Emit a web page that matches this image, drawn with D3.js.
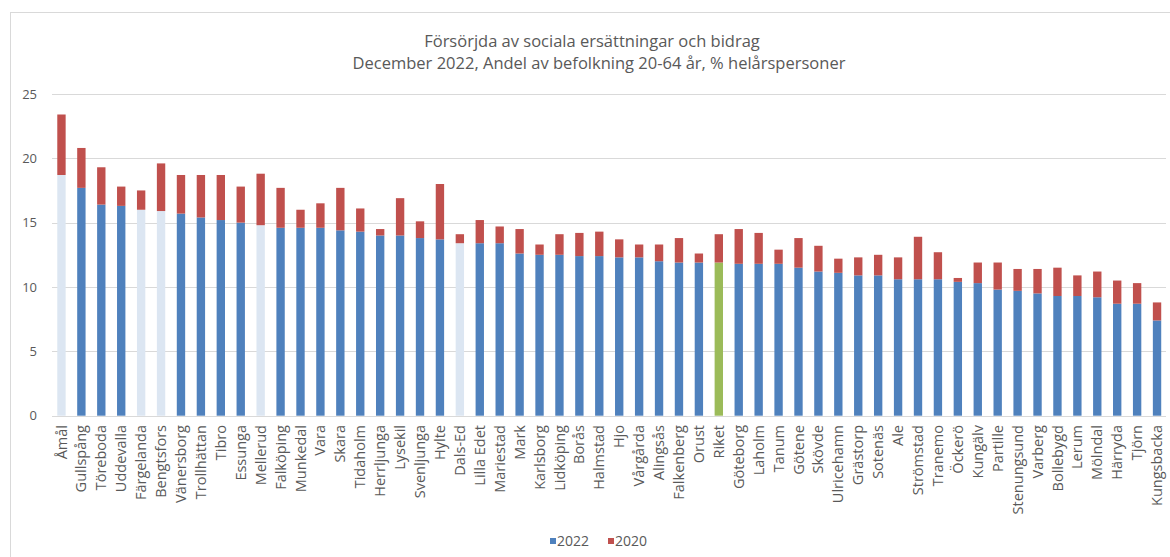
<!DOCTYPE html>
<html>
<head>
<meta charset="utf-8">
<script src="https://cdn.jsdelivr.net/npm/d3@7"></script>
<style>
  body { margin: 0; background: #fff; }
  svg { display: block; font-family: "Open Sans", "Noto Sans", sans-serif; }
</style>
</head>
<body>
<svg id="chart" width="1170" height="557"></svg>
<script>
// kommuner i ordning som i diagrammet
const kommuner = ['Åmål', 'Gullspång', 'Töreboda', 'Uddevalla', 'Färgelanda', 'Bengtsfors', 'Vänersborg',
  'Trollhättan', 'Tibro', 'Essunga', 'Mellerud', 'Falköping', 'Munkedal', 'Vara', 'Skara', 'Tidaholm',
  'Herrljunga', 'Lysekil', 'Svenljunga', 'Hylte', 'Dals-Ed', 'Lilla Edet', 'Mariestad', 'Mark', 'Karlsborg',
  'Lidköping', 'Borås', 'Halmstad', 'Hjo', 'Vårgårda', 'Alingsås', 'Falkenberg', 'Orust', 'Riket', 'Göteborg',
  'Laholm', 'Tanum', 'Götene', 'Skövde', 'Ulricehamn', 'Grästorp', 'Sotenäs', 'Ale', 'Strömstad', 'Tranemo',
  'Öckerö', 'Kungälv', 'Partille', 'Stenungsund', 'Varberg', 'Bollebygd', 'Lerum', 'Mölndal', 'Härryda',
  'Tjörn', 'Kungsbacka']

// andel 2022 (blå stapel)
const v2022 = [18.7, 17.7, 16.4, 16.3, 16.0, 15.9, 15.7, 15.4, 15.2, 15.0, 14.8, 14.6, 14.6, 14.6, 14.4, 14.3,
  14.0, 14.0, 13.8, 13.7, 13.4, 13.4, 13.4, 12.6, 12.5, 12.5, 12.4, 12.4, 12.3, 12.3, 12.0, 11.9, 11.9, 11.9, 11.8,
  11.8, 11.8, 11.5, 11.2, 11.1, 10.9, 10.9, 10.6, 10.6, 10.6, 10.4, 10.3, 9.8, 9.7, 9.5, 9.3, 9.3, 9.2, 8.7,
  8.7, 7.4]

// andel 2020 (röd del ovanpå, upp till 2020-nivån)
const v2020 = [23.4, 20.8, 19.3, 17.8, 17.5, 19.6, 18.7, 18.7, 18.7, 17.8, 18.8, 17.7, 16.0, 16.5, 17.7, 16.1,
  14.5, 16.9, 15.1, 18.0, 14.1, 15.2, 14.7, 14.5, 13.3, 14.1, 14.2, 14.3, 13.7, 13.3, 13.3, 13.8, 12.6, 14.1, 14.5,
  14.2, 12.9, 13.8, 13.2, 12.2, 12.3, 12.5, 12.3, 13.9, 12.7, 10.7, 11.9, 11.9, 11.4, 11.4, 11.5, 10.9, 11.2, 10.5,
  10.3, 8.8]

const dalsland = ['Åmål', 'Färgelanda', 'Bengtsfors', 'Mellerud', 'Dals-Ed']
const yTicks = [0, 5, 10, 15, 20, 25]
const serier = ['2022', '2020']

const blue = '#4F81BD', red = '#C0504D', green = '#9BBB59', light = '#DCE6F2'
const grid = '#D9D9D9', textColor = '#595959'

const svg = d3.select('#chart')

// ram runt diagrammet (bara vänster och överkant syns)
svg.append('rect')
  .attr('x', 10.5).attr('y', 12.5)
  .attr('width', 1200).attr('height', 600)
  .attr('fill', 'none').attr('stroke', grid)

const x = d3.scaleBand()
  .domain(kommuner)
  .range([51.5, 1167])
  .paddingInner(0.58)
  .paddingOuter(0.29)

const y = d3.scaleLinear()
  .domain([0, 25])
  .range([415.7, 93.9])

// rutnät
svg.append('g')
  .selectAll('line')
  .data(yTicks)
  .enter()
  .append('line')
  .attr('x1', 52).attr('x2', 1166)
  .attr('y1', d => Math.round(y(d)) + 0.5)
  .attr('y2', d => Math.round(y(d)) + 0.5)
  .attr('stroke', grid)
  .attr('stroke-width', 1)

// y-axel
const yAxis = svg.append('g')
  .attr('transform', 'translate(52,0)')
  .call(d3.axisLeft(y).tickValues(yTicks).tickSize(0).tickPadding(15))
yAxis.select('.domain').remove()
yAxis.selectAll('text')
  .attr('fill', textColor)
  .style('font-size', '13px')
  .style('font-family', '"Open Sans", sans-serif')

function baseColor(k) {
  if (k === 'Riket') return green
  if (dalsland.includes(k)) return light
  return blue
}

const rows = kommuner.map((k, i) => ({ k: k, a: v2022[i], b: v2020[i] }))

const bars = svg.append('g')
// 2022
bars.selectAll('.b22')
  .data(rows)
  .enter()
  .append('rect')
  .attr('class', 'b22')
  .attr('x', d => x(d.k))
  .attr('width', x.bandwidth())
  .attr('y', d => y(d.a))
  .attr('height', d => y(0) - y(d.a))
  .attr('fill', d => baseColor(d.k))
// 2020
bars.selectAll('.b20')
  .data(rows)
  .enter()
  .append('rect')
  .attr('class', 'b20')
  .attr('x', d => x(d.k))
  .attr('width', x.bandwidth())
  .attr('y', d => y(Math.max(d.a, d.b)))
  .attr('height', d => Math.max(0, y(d.a) - y(d.b)))
  .attr('fill', red)

// x-etiketter, roterade
svg.append('g')
  .selectAll('text')
  .data(kommuner)
  .enter()
  .append('text')
  .attr('transform', d => 'translate(' + (x(d) + x.bandwidth() / 2) + ',425) rotate(-90)')
  .attr('text-anchor', 'end')
  .attr('dy', '0.35em')
  .attr('fill', textColor)
  .style('font-size', '14.5px')
  .text(d => d)

// titel
const title = svg.append('text')
  .attr('x', 585)
  .attr('fill', textColor)
  .attr('text-anchor', 'middle')
  .style('font-size', '16.5px')
title.append('tspan').attr('x', 592).attr('y', 47).text('Försörjda av sociala ersättningar och bidrag')
title.append('tspan').attr('x', 599).attr('y', 69).text('December 2022, Andel av befolkning 20-64 år, % helårspersoner')

// legend
const legendX = [550, 608]
const legendColor = [blue, red]
const lg = svg.append('g')
  .selectAll('g')
  .data(serier)
  .enter()
  .append('g')
  .attr('transform', (d, i) => 'translate(' + legendX[i] + ',541)')
lg.append('rect')
  .attr('x', 0).attr('y', -3)
  .attr('width', 6).attr('height', 6)
  .attr('fill', (d, i) => legendColor[i])
lg.append('text')
  .attr('x', 7)
  .attr('dy', '0.35em')
  .attr('fill', textColor)
  .style('font-size', '14px')
  .text(d => d)
</script>
</body>
</html>
